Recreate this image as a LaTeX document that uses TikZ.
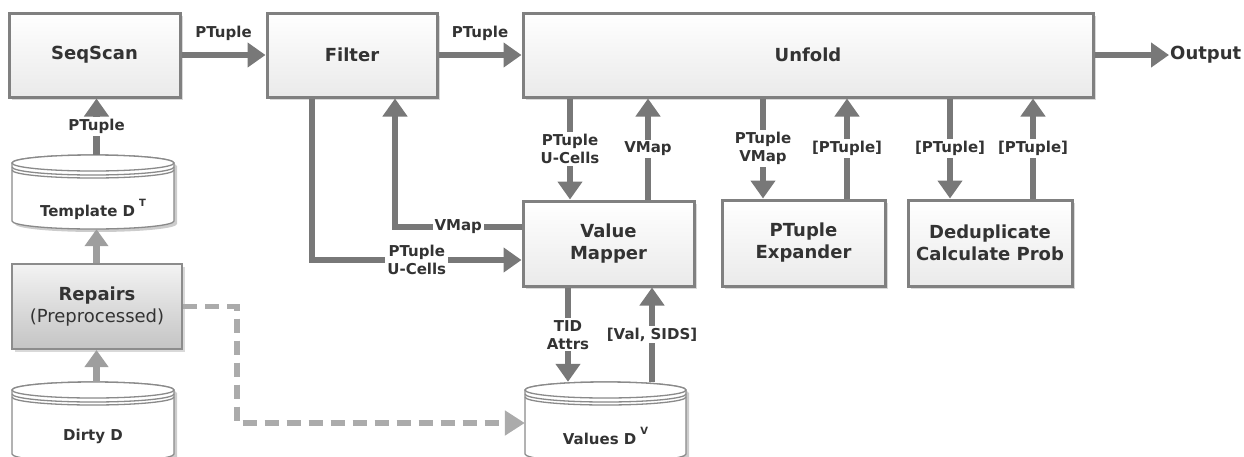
\documentclass[tikz,border=0pt]{standalone}
\usepackage{fontspec}
\setmainfont{DejaVu Sans}
\usetikzlibrary{arrows.meta,shadows}

\definecolor{flowgray}{HTML}{787878}
\definecolor{softgray}{HTML}{9E9E9E}
\definecolor{dashgray}{HTML}{ABABAB}
\definecolor{inkgray}{HTML}{333333}
\definecolor{edgegray}{HTML}{808080}
\definecolor{panelbottom}{HTML}{EAEAEA}
\definecolor{repairtop}{HTML}{F3F3F3}
\definecolor{repairbottom}{HTML}{C4C4C4}
\definecolor{repairedge}{HTML}{8C8C8C}
\definecolor{dbedge}{HTML}{8A8A8A}

\tikzset{
  proc/.style={draw=edgegray, line width=3pt, top color=white, bottom color=panelbottom,
    drop shadow={shadow xshift=3pt, shadow yshift=-3pt, opacity=.3},
    text=inkgray, font=\bfseries\fontsize{18}{22}\selectfont, align=center, inner sep=0pt},
  repair/.style={draw=repairedge, line width=2pt, top color=repairtop, bottom color=repairbottom,
    drop shadow={shadow xshift=3pt, shadow yshift=-3pt, opacity=.3},
    text=inkgray, font=\bfseries\fontsize{18}{22}\selectfont, align=center, inner sep=0pt},
  lbl/.style={text=inkgray, font=\bfseries\fontsize{15}{18}\selectfont, align=center, inner sep=1pt},
  lblw/.style={lbl, fill=white, inner sep=2pt},
  outlbl/.style={text=inkgray, font=\bfseries\fontsize{18}{22}\selectfont, inner sep=1pt},
  flow/.style={draw=flowgray, line width=6.5pt, -{Triangle[length=18pt,width=24pt]}},
  softflow/.style={draw=softgray, line width=6.5pt, -{Triangle[length=17pt,width=23pt]}},
  dashflow/.style={draw=dashgray, line width=5.5pt, dash pattern=on 14pt off 8pt,
    -{Triangle[length=20pt,width=24pt]}},
  dbline/.style={draw=dbedge, line width=1.3pt, fill=white},
  dbtext/.style={text=inkgray, font=\bfseries\fontsize{15}{18}\selectfont, inner sep=1pt},
}

% database drum: name, centre x, top y, width, height, caption
\newcommand\dbcyl[6]{%
  \pgfmathsetmacro\dbL{#2-#4/2}%
  \pgfmathsetmacro\dbR{#2+#4/2}%
  \pgfmathsetmacro\dbT{#3+8}%
  \pgfmathsetmacro\dbB{#3+#5-8}%
  \pgfmathsetmacro\dbRx{#4/2}%
  \fill[black, opacity=.2, shift={(3pt,-3pt)}] (\dbL,\dbT) -- (\dbL,\dbB)
    arc[start angle=180, end angle=0, x radius=\dbRx, y radius=8] -- (\dbR,\dbT)
    arc[start angle=0, end angle=-180, x radius=\dbRx, y radius=8] -- cycle;
  \filldraw[dbline] (\dbL,\dbT) -- (\dbL,\dbB)
    arc[start angle=180, end angle=0, x radius=\dbRx, y radius=8] -- (\dbR,\dbT)
    arc[start angle=0, end angle=-180, x radius=\dbRx, y radius=8] -- cycle;
  \draw[dbline] (#2,\dbT) ellipse[x radius=\dbRx, y radius=8];
  \draw[dbline, fill=none] (\dbL,\dbT+4) arc[start angle=180, end angle=0, x radius=\dbRx, y radius=8];
  \draw[dbline, fill=none] (\dbL,\dbT+7) arc[start angle=180, end angle=0, x radius=\dbRx, y radius=8];
  \node[minimum width=#4, minimum height=#5, inner sep=0pt] (#1) at (#2,#3+#5/2) {};
  \node[dbtext] (#1-text) at (#2,#3+54) {#6};
}
\newcommand\dbsup[1]{\hspace{4pt}\raisebox{10pt}{\fontsize{10}{10}\selectfont #1}}

\begin{document}
\begin{tikzpicture}[x=1pt, y=-1pt]
\useasboundingbox (0,0) rectangle (1244,456);
\clip (0,0) rectangle (1244,456);

% operator boxes
\node[proc, minimum width=171, minimum height=84] (seq) at (94.5,55) {SeqScan};
\node[proc, minimum width=170, minimum height=84] (filter) at (352,55) {Filter};
\node[proc, minimum width=570, minimum height=84] (unfold) at (808,55) {Unfold};
\node[proc, minimum width=171, minimum height=85] (vm) at (608.5,243.5) {Value\\Mapper};
\node[proc, minimum width=163, minimum height=86] (exp) at (803.5,243) {PTuple\\Expander};
\node[proc, minimum width=164, minimum height=86] (dedup) at (990,243) {Deduplicate\\Calculate Prob};
\node[repair, minimum width=170, minimum height=85] (repairs) at (97,306.5) {Repairs\\{\mdseries(Preprocessed)}};
\node[outlbl, anchor=west] (out) at (1169,55) {Output};

% stored tables
\dbcyl{tmpl}{93}{155}{162}{74}{Template D\dbsup{T}}
\dbcyl{dirty}{93}{382}{162}{80}{Dirty D}
\dbcyl{values}{605.5}{382}{161}{80}{Values D\dbsup{V}}

% routing guides
\coordinate (xl) at (96.5,0);
\coordinate (xfa) at (312,0);
\coordinate (xfb) at (395,0);
\coordinate (yva) at (0,227);
\coordinate (yvb) at (0,260);
\coordinate (xua) at (570,0);
\coordinate (xub) at (648,0);
\coordinate (xuc) at (763,0);
\coordinate (xud) at (847,0);
\coordinate (xue) at (950,0);
\coordinate (xuf) at (1033,0);
\coordinate (xva) at (568,0);
\coordinate (xvb) at (652,0);
\coordinate (xd) at (237,0);
\coordinate (yd) at (0,423);

% top pipeline
\draw[flow] (seq.east) -- node[lbl, yshift=22pt]{PTuple} (filter.west);
\draw[flow] (filter.east) -- node[lbl, yshift=22pt]{PTuple} (unfold.west);
\draw[flow] (unfold.east) -- (out.west);

% input side
\draw[flow] (tmpl.north -| xl) -- node[lblw]{PTuple} (seq.south -| xl);
\draw[softflow] (repairs.north -| xl) -- (tmpl.south -| xl);
\draw[softflow] (dirty.north -| xl) -- (repairs.south -| xl);
\draw[dashflow] (repairs.east) -- (repairs.east -| xd) -- (xd |- yd) -- (values.west |- yd);

% filter and value mapper
\draw[flow] (filter.south -| xfa) |- node[lblw, pos=.75]{PTuple\\U-Cells} (vm.west |- yvb);
\draw[flow] (vm.west |- yva) -| node[lblw, pos=.25]{VMap} (filter.south -| xfb);

% unfold exchanges
\draw[flow] (unfold.south -| xua) -- node[lblw]{PTuple\\U-Cells} (vm.north -| xua);
\draw[flow] (vm.north -| xub) -- node[lblw]{VMap} (unfold.south -| xub);
\draw[flow] (unfold.south -| xuc) -- node[lblw]{PTuple\\VMap} (exp.north -| xuc);
\draw[flow] (exp.north -| xud) -- node[lblw]{[PTuple]} (unfold.south -| xud);
\draw[flow] (unfold.south -| xue) -- node[lblw]{[PTuple]} (dedup.north -| xue);
\draw[flow] (dedup.north -| xuf) -- node[lblw]{[PTuple]} (unfold.south -| xuf);

% value lookups
\draw[flow] (vm.south -| xva) -- node[lblw]{TID\\Attrs} (values.north -| xva);
\draw[flow] (values.north -| xvb) -- node[lblw]{[Val, SIDS]} (vm.south -| xvb);
\end{tikzpicture}
\end{document}
